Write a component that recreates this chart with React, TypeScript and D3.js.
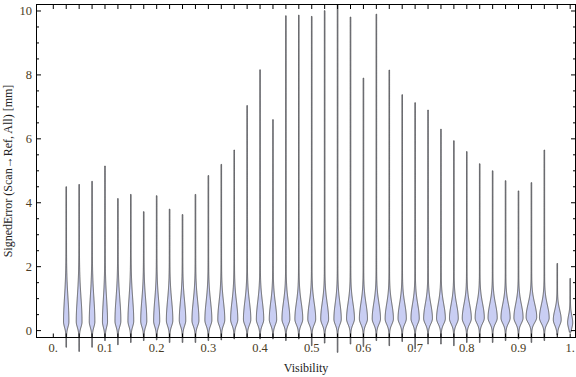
import * as d3 from 'd3'

// visibility bins (category centres)
const visibility = [
  0.025, 0.05, 0.075, 0.1, 0.125, 0.15, 0.175, 0.2, 0.225, 0.25,
  0.275, 0.3, 0.325, 0.35, 0.375, 0.4, 0.425, 0.45, 0.475, 0.5,
  0.525, 0.55, 0.575, 0.6, 0.625, 0.65, 0.675, 0.7, 0.725, 0.75,
  0.775, 0.8, 0.825, 0.85, 0.875, 0.9, 0.925, 0.95, 0.975, 1.0
]

// largest signed error per bin [mm]
const maxErr = [
  4.5, 4.57, 4.67, 5.15, 4.13, 4.26, 3.72, 4.22, 3.8, 3.63,
  4.26, 4.85, 5.2, 5.65, 7.04, 8.16, 6.6, 9.85, 9.87, 9.83,
  10.01, 10.4, 9.81, 7.9, 9.9, 8.15, 7.38, 7.13, 6.9, 6.3,
  5.94, 5.6, 5.22, 5.0, 4.69, 4.37, 4.63, 5.65, 2.1, 1.63
]

// smallest signed error per bin [mm]
const minErr = [
  -0.52, -0.65, -0.52, -0.31, -0.44, -0.37, -0.31, -0.29, -0.37, -0.37,
  -0.37, -0.31, -0.29, -0.26, -0.23, -0.26, -0.26, -0.31, -0.26, -0.47,
  -0.39, -0.68, -0.42, -0.5, -0.31, -0.47, -0.34, -0.57, -0.42, -0.42,
  -0.47, -0.37, -0.37, -0.37, -0.31, -0.26, -0.37, -0.31, -0.13, -0.05
]

// most frequent error (density peak) per bin [mm]
const modeErr = [
  0.28, 0.28, 0.28, 0.28, 0.3, 0.3, 0.3, 0.3, 0.32, 0.32,
  0.32, 0.33, 0.34, 0.35, 0.35, 0.35, 0.35, 0.36, 0.36, 0.36,
  0.36, 0.36, 0.37, 0.37, 0.37, 0.37, 0.38, 0.38, 0.38, 0.38,
  0.38, 0.38, 0.4, 0.4, 0.4, 0.4, 0.42, 0.4, 0.34, 0.25
]

// relative peak density per bin
const peakDensity = [
  0.48, 0.52, 0.5, 0.45, 0.53, 0.52, 0.55, 0.55, 0.59, 0.59,
  0.64, 0.64, 0.64, 0.66, 0.68, 0.68, 0.68, 0.73, 0.73, 0.73,
  0.73, 0.68, 0.73, 0.75, 0.77, 0.77, 0.77, 0.77, 0.82, 0.82,
  0.82, 0.85, 0.86, 0.86, 0.86, 0.86, 1.0, 0.91, 0.73, 0.45
]

// spread of the upper part of the density [mm]
const upperSpread = [
  0.75, 0.75, 0.75, 0.7, 0.7, 0.7, 0.65, 0.65, 0.62, 0.6,
  0.6, 0.58, 0.56, 0.55, 0.55, 0.55, 0.52, 0.52, 0.5, 0.5,
  0.5, 0.5, 0.48, 0.48, 0.48, 0.46, 0.46, 0.45, 0.45, 0.45,
  0.44, 0.44, 0.44, 0.43, 0.42, 0.42, 0.42, 0.4, 0.3, 0.22
]

const xTicks = [0, 0.1, 0.2, 0.3, 0.4, 0.5, 0.6, 0.7, 0.8, 0.9, 1.0]
const xTickLabels = ['0.', '0.1', '0.2', '0.3', '0.4', '0.5', '0.6', '0.7', '0.8', '0.9', '1.']
const yTicks = [0, 2, 4, 6, 8, 10]

const W = 576
const H = 377
const L = 36.5, R = 575.5, T = 4.5, B = 337.5
const FONT = '"Liberation Serif", "Times New Roman", serif'
const LABEL = '#4a3b24'

export default function App() {
  const x = d3.scaleLinear().domain([-0.0325, 1.0103]).range([L, R])
  const y = d3.scaleLinear().domain([-0.2156, 10.203]).range([B, T])
  const halfWidth = d3.scaleLinear().domain([0, 1]).range([0, 5])

  const minorY = d3.range(0, 10.01, 0.5)
  const catTicks = [0].concat(visibility)

  const violins = visibility.map((v, i) => {
    const m = modeErr[i]
    const su = upperSpread[i]
    const sd = 0.17
    const hw = halfWidth(peakDensity[i])
    const pts = d3.range(minErr[i], maxErr[i], 0.02).concat([maxErr[i]])
    const shape = pts.map(e => {
      const s = e >= m ? su : sd
      const g = Math.exp(-0.5 * ((e - m) / s) ** 2)
      return { e, w: hw * g + 0.3 }
    })
    const cx = x(v)
    const area = d3.area<{ e: number; w: number }>()
      .x0(d => cx - d.w)
      .x1(d => cx + d.w)
      .y(d => y(d.e))
      .curve(d3.curveMonotoneY)
    return area(shape) as string
  })

  return (
    <svg width={W} height={H} style={{ position: 'absolute', left: 0, top: 0 }} fontFamily={FONT}>
      <rect width={W} height={H} fill="white" />
      <defs>
        <clipPath id="clip">
          <rect x={0} y={T} width={W} height={H} />
        </clipPath>
      </defs>
      <g clipPath="url(#clip)">
        {violins.map((d, i) => (
          <path key={i} d={d} fill="#c9cef3" stroke="#4a4a4a" strokeOpacity={0.85} strokeWidth={1} />
        ))}
      </g>

      {/* frame */}
      <rect x={L} y={T} width={R - L} height={B - T} fill="none" stroke="black" strokeWidth={1} />

      {/* left / right ticks */}
      {minorY.map(t => {
        const major = t % 2 === 0
        const len = major ? 4.5 : 2.5
        return (
          <g key={t}>
            <line x1={L} x2={L + len} y1={y(t)} y2={y(t)} stroke="black" />
            <line x1={R} x2={R - len} y1={y(t)} y2={y(t)} stroke="black" />
          </g>
        )
      })}
      {yTicks.map(t => (
        <text key={t} x={32} y={y(t)} dy="0.34em" textAnchor="end" fontSize={12.5} fill={LABEL}>{t}</text>
      ))}

      {/* top / bottom ticks */}
      {catTicks.map((t, i) => (
        <g key={i}>
          <line x1={x(t)} x2={x(t)} y1={T} y2={T + 4.5} stroke="black" />
          <line x1={x(t)} x2={x(t)} y1={B} y2={B - 4} stroke="black" />
        </g>
      ))}
      {xTicks.map((t, i) => (
        <text key={t} x={x(t)} y={351.5} textAnchor="middle" fontSize={12.5} fill={LABEL}>{xTickLabels[i]}</text>
      ))}

      <text x={(L + R) / 2} y={372} textAnchor="middle" fontSize={12} fill="#222">Visibility</text>
      <text transform={`translate(12,${(T + B) / 2}) rotate(-90)`} textAnchor="middle" fontSize={12} fill="#222">
        SignedError (Scan→Ref, All) [mm]
      </text>
    </svg>
  )
}
